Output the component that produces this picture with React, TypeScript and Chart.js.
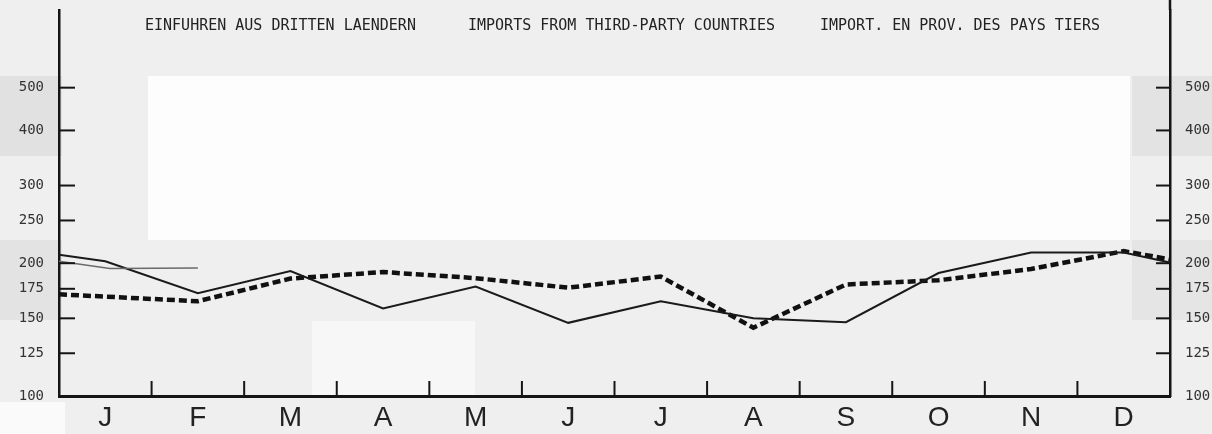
import React, { useEffect, useRef } from "react";
import { Chart, registerables } from "chart.js";

Chart.register(...registerables);

const months = ["J", "F", "M", "A", "M", "J", "J", "A", "S", "O", "N", "D"];
const yTicks = [100, 125, 150, 175, 200, 250, 300, 400, 500];

// solid line (monthly values), with previous-December and next-January continuation
const solidValues = [202, 171, 192, 158, 177, 146.5, 164, 150, 147, 190, 211.5, 211.5];
const solidPrevDec = 209;
const solidNextJan = 200.6;

// dashed line (trend)
const dashedValues = [168, 164, 184.6, 191, 185, 176, 186.5, 142.8, 179, 183, 194, 213];
const dashedPrevDec = 170;
const dashedNextJan = 204;

// faint grey trace at the start of the year
const traceX = [0, 0.55, 1.5];
const traceValues = [202, 194.5, 195];

const titleParts = [
  "EINFUHREN AUS DRITTEN LAENDERN",
  "IMPORTS FROM THIRD-PARTY COUNTRIES",
  "IMPORT. EN PROV. DES PAYS TIERS",
];

function buildSeries(prev: number, vals: number[], next: number) {
  return [
    { x: 0, y: prev },
    ...vals.map((v, i) => ({ x: i + 0.5, y: v })),
    { x: 12, y: next },
  ];
}

const decoPlugin = {
  id: "deco",
  afterDatasetsDraw(chart: any) {
    const { ctx, chartArea, scales } = chart;
    const line = (x1: number, y1: number, x2: number, y2: number) => {
      ctx.beginPath();
      ctx.moveTo(x1, y1);
      ctx.lineTo(x2, y2);
      ctx.stroke();
    };
    ctx.save();
    ctx.strokeStyle = "#151515";
    ctx.lineWidth = 2;
    const y = scales.y;
    yTicks.forEach((v) => {
      if (v === 100) return;
      const py = y.getPixelForValue(v);
      line(chartArea.left, py, chartArea.left + 16, py);
      line(chartArea.right, py, chartArea.right - 14, py);
    });
    for (let i = 1; i < 12; i++) {
      const px = scales.x.getPixelForValue(i);
      line(px, chartArea.bottom, px, chartArea.bottom - 15);
    }
    ctx.lineWidth = 2.5;
    line(chartArea.right, 0, chartArea.right, chartArea.top);
    // title text
    ctx.fillStyle = "#222";
    ctx.font = "15px 'DejaVu Sans Mono'";
    ctx.textBaseline = "middle";
    ctx.textAlign = "left";
    const starts = [145, 468, 820];
    titleParts.forEach((t, i) => ctx.fillText(t, starts[i], 26));
    ctx.restore();
  },
};

export default function App() {
  const ref = useRef<HTMLCanvasElement | null>(null);
  useEffect(() => {
    if (!ref.current) return;
    const yAxis = (position: "left" | "right", width: number) => ({
      type: "logarithmic" as const,
      position,
      min: 100,
      max: 750,
      afterBuildTicks: (s: any) => {
        s.ticks = yTicks.map((v) => ({ value: v }));
      },
      afterFit: (s: any) => {
        s.width = width;
        s.paddingTop = 0;
        s.paddingBottom = 0;
      },
      grid: { display: false, drawTicks: false },
      border: { display: true, color: "#151515", width: 2.5 },
      ticks: {
        callback: (v: any) => String(v),
        font: { family: "'DejaVu Sans Mono'", size: 14 },
        color: "#333",
        padding: 15,
        autoSkip: false,
      },
    });
    const chart = new Chart(ref.current, {
      type: "line",
      data: {
        datasets: [
          {
            data: traceX.map((x, i) => ({ x, y: traceValues[i] })),
            borderColor: "#6a6a6a",
            borderWidth: 1.5,
            pointRadius: 0,
          },
          {
            data: buildSeries(solidPrevDec, solidValues, solidNextJan),
            borderColor: "#1a1a1a",
            borderWidth: 2,
            pointRadius: 0,
          },
          {
            data: buildSeries(dashedPrevDec, dashedValues, dashedNextJan),
            borderColor: "#111",
            borderWidth: 4.5,
            borderDash: [8, 4],
            pointRadius: 0,
          },
        ],
      },
      options: {
        animation: false,
        responsive: true,
        maintainAspectRatio: false,
        layout: { padding: { top: 10, left: 0, right: 0, bottom: 0 } },
        plugins: { legend: { display: false }, tooltip: { enabled: false }, title: { display: false } },
        scales: {
          x: {
            type: "linear",
            position: "bottom",
            min: 0,
            max: 12,
            afterBuildTicks: (s: any) => {
              s.ticks = months.map((_, i) => ({ value: i + 0.5 }));
            },
            afterFit: (s: any) => {
              s.height = 38;
              s.paddingLeft = 0;
              s.paddingRight = 0;
            },
            grid: { display: false, drawTicks: false },
            border: { display: true, color: "#151515", width: 3 },
            ticks: {
              callback: (v: any) => months[Math.floor(Number(v))] ?? "",
              font: { family: "'Liberation Sans'", size: 28 },
              color: "#222",
              padding: 5,
              autoSkip: false,
              maxRotation: 0,
            },
          },
          y: yAxis("left", 59),
          y2: yAxis("right", 42),
        },
      } as any,
      plugins: [decoPlugin],
    });
    return () => chart.destroy();
  }, []);

  const patch = (l: number, t: number, w: number, h: number, c: string) => (
    <div style={{ position: "absolute", left: l, top: t, width: w, height: h, background: c }} />
  );

  return (
    <div style={{ position: "fixed", left: 0, top: 0, width: 1212, height: 434, background: "#efefef", overflow: "hidden" }}>
      {patch(148, 76, 982, 164, "#fdfdfd")}
      {patch(0, 76, 62, 80, "#e1e1e1")}
      {patch(0, 240, 62, 80, "#e3e3e3")}
      {patch(1132, 76, 80, 80, "#e3e3e3")}
      {patch(1132, 240, 80, 80, "#e5e5e5")}
      {patch(312, 321, 163, 75, "#f7f7f7")}
      {patch(0, 402, 65, 32, "#fafafa")}
      <canvas ref={ref} style={{ position: "absolute", left: 0, top: 0, width: 1212, height: 434 }} />
    </div>
  );
}
